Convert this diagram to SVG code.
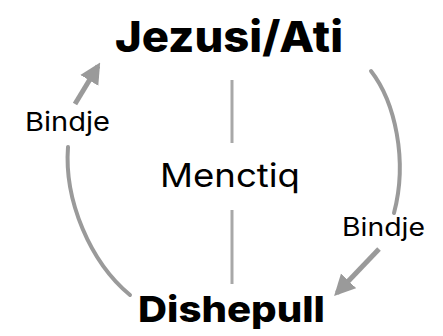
<svg xmlns="http://www.w3.org/2000/svg" width="443" height="336" viewBox="0 0 443 336">
  <style>
    .t { font-family: Inter, "Open Sans", "Liberation Sans", sans-serif; fill: #000; }
    .b { font-weight: 800; }
    .r { font-weight: 400; }
    .c { fill: none; stroke: #9a9a9a; stroke-width: 4; stroke-linecap: round; }
    .s { stroke-width: 5; stroke-linecap: butt; }
    .v { fill: none; stroke: #a8a8a8; stroke-width: 3; }
  </style>
  <defs>
    <marker id="ah" viewBox="0 0 10 10" refX="8" refY="5" markerWidth="4.2" markerHeight="4.4" markerUnits="strokeWidth" orient="auto">
      <path d="M0,0 L10,5 L0,10 Z" fill="#9a9a9a"/>
    </marker>
  </defs>
  <rect width="443" height="336" fill="#fff"/>
  <g id="connectors">
    <line class="v" x1="232" y1="80" x2="232" y2="143"/>
    <line class="v" x1="232" y1="210" x2="232" y2="284"/>
    <path class="c" d="M371,71 C395,102 408,160 394,213"/>
    <line class="c s" x1="379" y1="249" x2="337" y2="293" marker-end="url(#ah)"/>
    <path class="c" d="M68,147 C64,200 90,262 130,295"/>
    <line class="c s" x1="75" y1="104" x2="98" y2="66" marker-end="url(#ah)"/>
  </g>
  <g id="node-jezusi">
    <text class="t b" x="115" y="52" font-size="43" textLength="228" lengthAdjust="spacingAndGlyphs">Jezusi/Ati</text>
  </g>
  <g id="node-menctiq">
    <text class="t r" x="160" y="187" font-size="33" textLength="140" lengthAdjust="spacingAndGlyphs">Menctiq</text>
  </g>
  <g id="node-dishepull">
    <text class="t b" x="138" y="322" font-size="36" textLength="187" lengthAdjust="spacingAndGlyphs">Dishepull</text>
  </g>
  <g id="label-left">
    <text class="t r" x="25" y="131" font-size="26" textLength="85" lengthAdjust="spacingAndGlyphs">Bindje</text>
  </g>
  <g id="label-right">
    <text class="t r" x="342" y="236" font-size="25" textLength="83" lengthAdjust="spacingAndGlyphs">Bindje</text>
  </g>
</svg>
